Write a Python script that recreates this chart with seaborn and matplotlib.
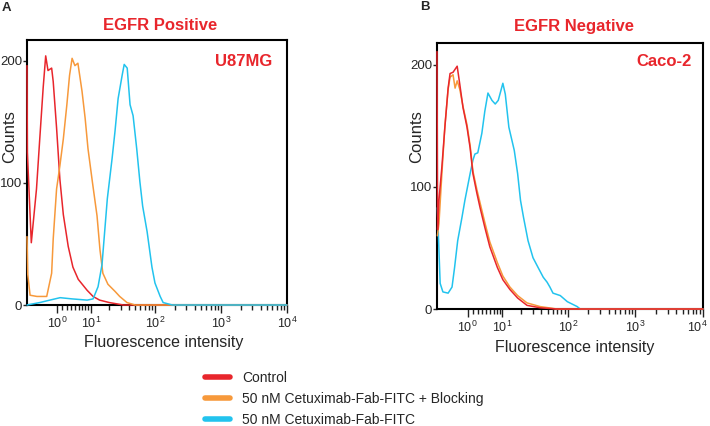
import matplotlib
matplotlib.use('Agg')
import matplotlib.pyplot as plt
from matplotlib.lines import Line2D
from matplotlib.transforms import ScaledTranslation
import seaborn as sns

sns.set_style('ticks')
plt.rcParams['font.family'] = ['Liberation Sans', 'DejaVu Sans']
plt.rcParams['mathtext.fontset'] = 'custom'
plt.rcParams['mathtext.rm'] = 'Liberation Sans'

RED = '#e8262c'
ORANGE = '#f7993b'
CYAN = '#22c3ee'

# panel A - U87MG (EGFR positive)
red_a_x = [-5.4, -5.3, -4.3, -3.1, -2.4, -1.7, -1.2, -0.75, -0.05, 0.25, 0.9, 1.55,
           2.25, 3.3, 4.4, 5.8, 8.6, 10.9, 14, 20, 33, 10000]
red_a_y = [196, 125, 51, 95, 136, 178, 204, 192, 194, 183, 145, 103,
           74, 48, 31, 21, 12, 7, 4, 2, 0, 0]

orange_a_x = [-5.4, -5.2, -4.6, -3.0, -1.0, -0.05, 0.25, 0.9, 1.55, 2.25, 3.0, 3.6,
              4.2, 4.9, 5.7, 6.9, 7.9, 8.9, 10.6, 12.7, 14.2, 15.8, 19, 24.7,
              29, 37.5, 50, 10000]
orange_a_y = [56, 25, 8, 7, 7, 26, 54, 95, 114, 136, 164, 188,
              202, 196, 198, 175, 153, 128, 101, 73, 45, 26, 17, 11,
              7, 2, 0, 0]

blue_a_x = [-5.4, -2.4, -0.4, 1.6, 4.2, 8.6, 10.9, 13.2, 15.3, 18.6, 22.1, 24.5,
            27.4, 31.6, 34, 37.8, 41.8, 46.5, 52.8, 59, 65, 76, 90, 100,
            120, 133, 183, 10000]
blue_a_y = [0, 2, 4, 6, 5, 4, 5, 15, 33, 87, 120, 142,
            169, 188, 197, 194, 164, 155, 128, 101, 81, 60, 31, 18,
            7, 2, 0, 0]

# panel B - Caco-2 (EGFR negative)
red_b_x = [-5.4, -5.25, -4.9, -4.2, -3.5, -2.8, -2.4, -1.8, -1.0, -0.5, 0.1, 0.85,
           1.45, 2.0, 2.8, 3.5, 4.6, 5.9, 8.2, 10.2, 13.3, 17.6, 24.5, 38.5,
           69, 10000]
red_b_y = [211, 65, 89, 116, 149, 181, 193, 194, 199, 184, 165, 149,
           132, 111, 95, 83, 67, 51, 34, 24, 16, 9, 3, 1,
           0, 0]

orange_b_x = [-5.3, -4.9, -4.2, -3.5, -2.8, -2.4, -1.8, -1.4, -1.0, -0.5, 0.1, 0.85,
              1.45, 2.0, 2.8, 3.5, 4.6, 5.9, 8.2, 10.2, 13.3, 17.6, 24.5, 38.5,
              69, 10000]
orange_b_y = [60, 70, 110, 150, 180, 190, 192, 181, 187, 180, 166, 151,
              134, 113, 98, 87, 71, 55, 38, 27, 18, 11, 5, 2,
              0, 0]

blue_b_x = [-5.3, -4.6, -3.95, -2.8, -2.0, -1.5, -0.9, -0.1, 0.45, 1.45,
            2.0, 2.4, 3.0, 3.9, 4.6, 5.4, 6.5, 7.5, 8.5, 10.2,
            11.2, 12.8, 15.6, 17.6, 19.5, 21.7, 25.4, 30.2, 36, 43,
            49, 54, 60, 77, 98, 137, 152, 10000]
blue_b_y = [83, 21, 14, 13, 18, 34, 56, 75, 89, 111,
            122, 127, 128, 144, 162, 177, 171, 168, 171, 185,
            176, 149, 130, 111, 89, 75, 56, 42, 34, 26,
            22, 18, 13, 11, 6, 2, 0, 0]

major_ticks = [1, 10, 100, 1000, 10000]
major_labels = [r'$\mathregular{10^{%d}}$' % i for i in range(5)]
minor_ticks = [m * 10 ** k for k in range(4) for m in range(2, 10)]

legend_labels = ['Control', '50 nM Cetuximab-Fab-FITC + Blocking', '50 nM Cetuximab-Fab-FITC']

fig = plt.figure(figsize=(7.1, 4.26), dpi=100)
ax_a = fig.add_axes([27 / 710, 1 - 305 / 426, 260 / 710, 265 / 426])
ax_b = fig.add_axes([437 / 710, 1 - 309 / 426, 266 / 710, 266 / 426])


def draw_panel(ax, curves, ymax, ylab_xy, xlab_xy):
    for xs, ys, col in curves:
        sns.lineplot(x=xs, y=ys, ax=ax, color=col, linewidth=1.1,
                     estimator=None, sort=False)
        ax.lines[-1].set_clip_on(False)
        ax.lines[-1].set_zorder(3)
    ax.set_xscale('asinh', linear_width=5.5)
    ax.set_xlim(-5.4, 10000)
    ax.set_ylim(0, ymax)
    ax.set_xticks(major_ticks, major_labels, fontsize=9)
    ax.set_xticks(minor_ticks, minor=True)
    ax.set_yticks([0, 100, 200], ['0', '100', '200'], fontsize=9.5)
    ax.tick_params(axis='x', which='major', length=6, width=1, pad=2, color='#222222')
    ax.tick_params(axis='x', which='minor', length=3.5, width=1, color='#222222')
    ax.tick_params(axis='y', length=3, width=1, pad=0.6)
    for s in ax.spines.values():
        s.set_linewidth(1.5)
        s.set_color('black')
    ax.set_ylabel('Counts', fontsize=12, ha='center', va='center', rotation_mode='default')
    ax.yaxis.set_label_coords(*ylab_xy)
    ax.set_xlabel('Fluorescence intensity', fontsize=11.5, va='center')
    ax.xaxis.set_label_coords(*xlab_xy)


draw_panel(ax_a, [(red_a_x, red_a_y, RED), (orange_a_x, orange_a_y, ORANGE),
                  (blue_a_x, blue_a_y, CYAN)], 217, (-0.065, 0.634), (0.527, -0.143))
draw_panel(ax_b, [(blue_b_x, blue_b_y, CYAN), (orange_b_x, orange_b_y, ORANGE),
                  (red_b_x, red_b_y, RED)], 218, (-0.075, 0.647), (0.519, -0.143))

# last tick label of panel B sits against the figure edge; nudge it left a little
last = ax_b.get_xticklabels()[-1]
last.set_transform(last.get_transform() + ScaledTranslation(-6 / 100, 0, fig.dpi_scale_trans))

fig.text(6 / 710, 1 - 8 / 426, 'A', fontsize=9.5, fontweight='bold', ha='center', va='center')
fig.text(425 / 710, 1 - 7 / 426, 'B', fontsize=9.5, fontweight='bold', ha='center', va='center')
fig.text(160 / 710, 1 - 25 / 426, 'EGFR Positive', color=RED, fontsize=12,
         fontweight='bold', ha='center', va='center')
fig.text(574 / 710, 1 - 26 / 426, 'EGFR Negative', color=RED, fontsize=12,
         fontweight='bold', ha='center', va='center')
fig.text(272 / 710, 1 - 62 / 426, 'U87MG', color=RED, fontsize=12,
         fontweight='bold', ha='right', va='center')
fig.text(692 / 710, 1 - 62 / 426, 'Caco-2', color=RED, fontsize=12,
         fontweight='bold', ha='right', va='center')

handles = [Line2D([], [], color=c, linewidth=4) for c in (RED, ORANGE, CYAN)]
fig.legend(handles, legend_labels, loc='upper left', bbox_to_anchor=(205 / 710, 1 - 371 / 426),
           frameon=False, fontsize=10, handlelength=1.8, handletextpad=0.85,
           labelspacing=0.5, borderpad=0, borderaxespad=0)

fig.savefig('out.png', dpi=100)
